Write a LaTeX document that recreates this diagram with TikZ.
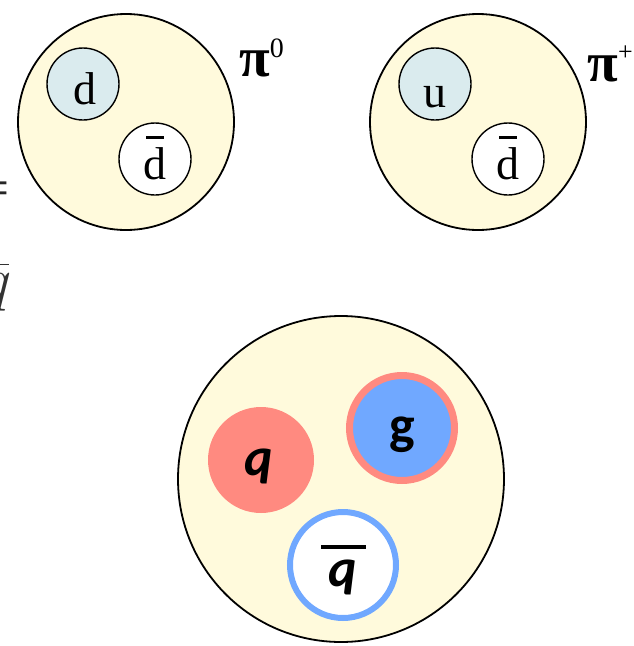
\documentclass[tikz,border=0pt]{standalone}
\usepackage{fontspec}
\setmainfont{Liberation Serif}
\newfontfamily\carl{Carlito}
\newfontfamily\libsans{Liberation Sans}
\newfontfamily\lmrom{Latin Modern Roman}
\usetikzlibrary{calc}
\definecolor{hadronc}{HTML}{FFFADC}
\definecolor{quarkc}{HTML}{DAEBEE}
\definecolor{qred}{HTML}{FF8A80}
\definecolor{gblue}{HTML}{70A8FF}
\begin{document}
\begin{tikzpicture}[x=1pt,y=-1pt,
  hadron/.style={circle, draw=black, line width=1.8pt, fill=hadronc, inner sep=0pt},
  pion/.style={hadron, minimum size=216pt},
  quark/.style={circle, draw=black, line width=1.4pt, fill=quarkc, inner sep=0pt, minimum size=72pt},
  antiquark/.style={quark, fill=white},
  serlbl/.style={inner sep=0pt, font=\fontsize{46}{50}\selectfont},
  cbl/.style={inner sep=0pt, font=\fontsize{54}{56}\selectfont\carl\bfseries\itshape},
  pilbl/.style={anchor=base west, inner sep=0pt, font=\fontsize{56}{60}\selectfont\bfseries},
  barline/.style={line width=3pt, black}]
\useasboundingbox (0,0) rectangle (633,646);
\clip (0,0) rectangle (633,646);

% clipped fragments at the left edge
\node[anchor=base east, inner sep=0pt, text=black!85, font=\fontsize{40}{40}\selectfont\libsans] (eq) at (9,201) {=};
\node[anchor=base east, inner sep=0pt, text=black!80, font=\fontsize{60}{60}\selectfont\lmrom\itshape] (qfrag) at (8,299) {q};
\draw[line width=1.5pt, black!80] ($(qfrag.north east)+(-30,-8)$) -- ($(qfrag.north east)+(1,-8)$);

% pi0
\node[pion] (pi0) at (126,122) {};
\node[quark] (d1) at (83,84) {};
\node[antiquark] (db1) at (155,159) {};
\node[serlbl] (d1t) at (85,89) {d};
\node[serlbl] (db1t) at (155,164) {d};
\draw[barline] ($(db1t.center)+(-9,-27)$) -- ($(db1t.center)+(9,-27)$);
\node[pilbl] (pi0l) at (239,76)
  {π\raisebox{19pt}{\fontsize{28}{28}\selectfont\mdseries 0}};

% pi+
\node[pion] (pip) at (478,122) {};
\node[quark] (u2) at (435,84) {};
\node[antiquark] (db2) at (508,159) {};
\node[serlbl] (u2t) at (435,97) {u};
\node[serlbl] (db2t) at (508,164) {d};
\draw[barline] ($(db2t.center)+(-9,-27)$) -- ($(db2t.center)+(9,-27)$);
\node[pilbl, anchor=base east] (pipl) at (633,81)
  {π\raisebox{21pt}{\fontsize{26}{26}\selectfont\mdseries +}};

% generic meson q g qbar
\node[hadron, minimum size=326pt] (mes) at (341,479) {};
\node[circle, fill=qred, inner sep=0pt, minimum size=106pt] (qc) at (261,460) {};
\node[circle, fill=gblue, draw=qred, line width=7pt, inner sep=0pt, minimum size=105pt] (gc) at (402,428) {};
\node[circle, fill=white, draw=gblue, line width=6pt, inner sep=0pt, minimum size=106pt] (qbc) at (343,565) {};
\node[cbl] (qt) at (259,466) {q};
\node[cbl, font=\fontsize{54}{56}\selectfont\carl\bfseries] (gt) at (402,435) {g};
\node[cbl] (qbt) at (343,577) {q};
\draw[line width=3.5pt] ($(qbc.center)+(-22,-18)$) -- ($(qbc.center)+(23,-18)$);
\end{tikzpicture}
\end{document}
